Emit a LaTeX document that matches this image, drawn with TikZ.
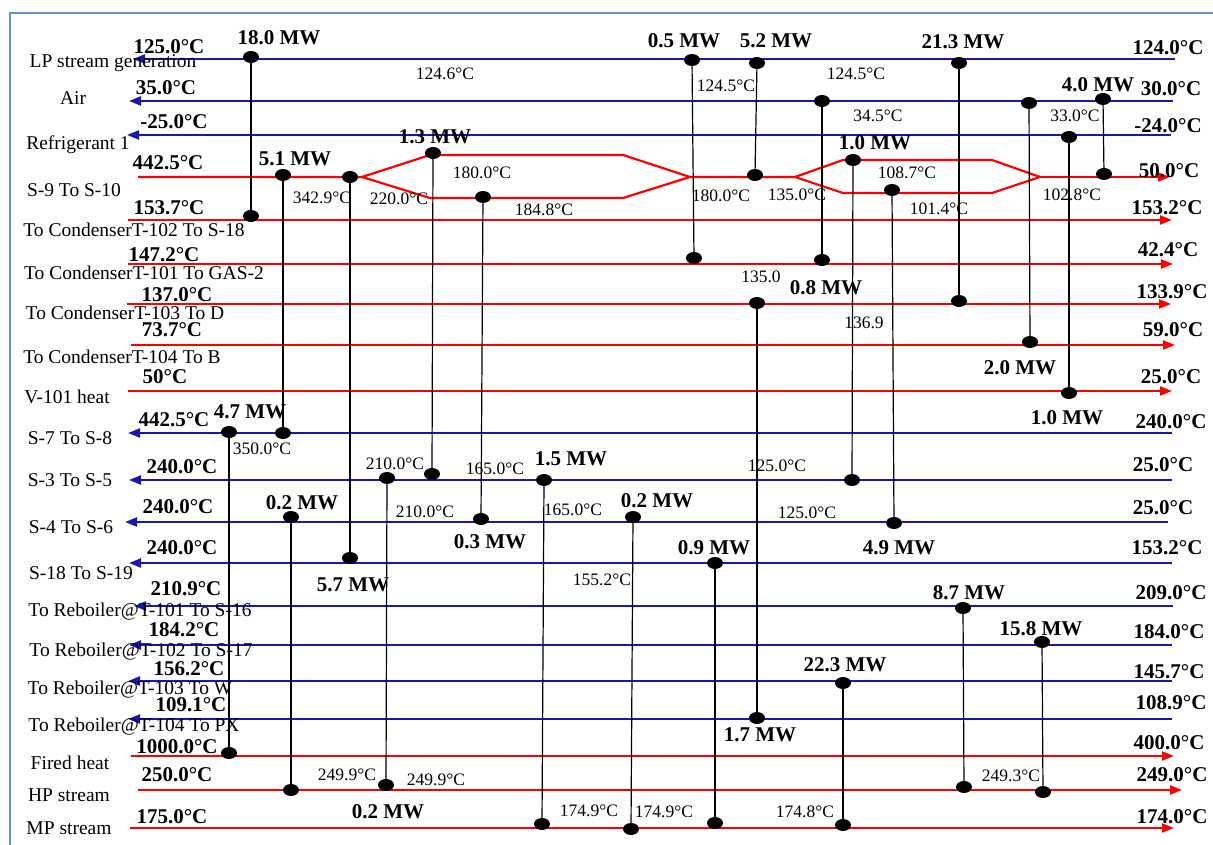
\documentclass[tikz,border=0pt]{standalone}
\usepackage{fontspec}
\setmainfont{Liberation Serif}
\usetikzlibrary{arrows.meta,shapes.geometric}
\definecolor{hotred}{RGB}{255,0,0}
\definecolor{coldblue}{RGB}{24,24,176}
\definecolor{framecol}{RGB}{100,145,205}
\tikzset{
  hot/.style={draw=hotred,line width=2.2pt},
  cold/.style={draw=coldblue,line width=2.2pt},
  tipR/.style={-{Triangle[length=12pt,width=9pt]}},
  tipL/.style={{Triangle[length=12pt,width=9pt]}-},
  hx/.style={draw=black,line width=1.2pt},
  dot/.style={ellipse,fill=black,draw=none,inner sep=0pt,minimum width=16pt,minimum height=12pt},
  sname/.style={inner sep=0pt,font=\fontsize{19.5}{20}\selectfont},
  btemp/.style={inner sep=0pt,font=\bfseries\fontsize{21}{22}\selectfont},
  mw/.style={inner sep=0pt,font=\bfseries\fontsize{21}{22}\selectfont},
  stemp/.style={inner sep=0pt,font=\fontsize{17.5}{18}\selectfont},
  framebox/.style={draw=framecol,line width=2pt}
}
\begin{document}
\begin{tikzpicture}[x=1pt,y=-1pt]
\useasboundingbox (0,0) rectangle (1213,845);
\fill[white] (0,0) rectangle (1213,845);
\draw[framebox] (10,850) -- (10,13) -- (1220,13);

% ---------- stream end points ----------
\coordinate (lpL) at (133,59);   \coordinate (lpR) at (1175,59);
\coordinate (airL) at (129,101); \coordinate (airR) at (1173,101);
\coordinate (refL) at (127,135); \coordinate (refR) at (1171,135);
\coordinate (s9L) at (138,177);  \coordinate (s9R) at (1170,177);
\coordinate (c2L) at (128,220);  \coordinate (c2R) at (1172,220);
\coordinate (c1L) at (128,264);  \coordinate (c1R) at (1173,264);
\coordinate (c3L) at (127,304);  \coordinate (c3R) at (1171,304);
\coordinate (c4L) at (131,345);  \coordinate (c4R) at (1175,345);
\coordinate (vL) at (128,391);   \coordinate (vR) at (1172,391);
\coordinate (s7L) at (128,433);  \coordinate (s7R) at (1172,433);
\coordinate (s3L) at (129,480);  \coordinate (s3R) at (1172,480);
\coordinate (s4L) at (125,522);  \coordinate (s4R) at (1168,522);
\coordinate (s18L) at (129,563); \coordinate (s18R) at (1172,563);
\coordinate (r1L) at (134,606);  \coordinate (r1R) at (1173,606);
\coordinate (r2L) at (129,645);  \coordinate (r2R) at (1172,645);
\coordinate (r3L) at (128,681);  \coordinate (r3R) at (1172,681);
\coordinate (r4L) at (128,719);  \coordinate (r4R) at (1172,719);
\coordinate (fhL) at (131,756);  \coordinate (fhR) at (1174,756);
\coordinate (hpL) at (138,790);  \coordinate (hpR) at (1182,790);
\coordinate (mpL) at (130,828);  \coordinate (mpR) at (1174,828);

% split points of S-9
\coordinate (sa) at (362,177); \coordinate (sa1) at (430,155); \coordinate (sa2) at (623,155);
\coordinate (sa3) at (430,198); \coordinate (sa4) at (623,198); \coordinate (sb) at (690,177);
\coordinate (sc) at (795,177); \coordinate (sc1) at (843,160); \coordinate (sc2) at (992,160);
\coordinate (sc3) at (843,193); \coordinate (sc4) at (992,193); \coordinate (sd) at (1040,177);

% ---------- cold streams ----------
\draw[cold,tipL] (lpL) -- (lpR);
\draw[cold,tipL] (airL) -- (airR);
\draw[cold,tipL] (refL) -- (refR);
\draw[cold,tipL] (s7L) -- (s7R);
\draw[cold,tipL] (s3L) -- (s3R);
\draw[cold,tipL] (s4L) -- (s4R);
\draw[cold,tipL] (s18L) -- (s18R);
\draw[cold,tipL] (r1L) -- (r1R);
\draw[cold,tipL] (r2L) -- (r2R);
\draw[cold,tipL] (r3L) -- (r3R);
\draw[cold,tipL] (r4L) -- (r4R);

% ---------- hot streams ----------
\draw[hot] (s9L) -- (sa) -- (sa1) -- (sa2) -- (sb) -- (sc) -- (sc1) -- (sc2) -- (sd);
\draw[hot] (sa) -- (sa3) -- (sa4) -- (sb);
\draw[hot] (sc) -- (sc3) -- (sc4) -- (sd);
\draw[hot,tipR] (sd) -- (s9R);
\draw[hot,tipR] (c2L) -- (c2R);
\draw[hot,tipR] (c1L) -- (c1R);
\draw[hot,tipR] (c3L) -- (c3R);
\draw[hot,tipR] (c4L) -- (c4R);
\draw[hot,tipR] (vL) -- (vR);
\draw[hot,tipR] (fhL) -- (fhR);
\draw[hot,tipR] (hpL) -- (hpR);
\draw[hot,tipR] (mpL) -- (mpR);

% ---------- exchangers ----------
\node[dot] (e1t) at (251,57) {};   \node[dot] (e1b) at (251,216) {};
\node[dot] (e2t) at (283,175) {};  \node[dot] (e2b) at (283,433) {};
\node[dot] (e3t) at (350,177) {};  \node[dot] (e3b) at (350,558) {};
\node[dot] (e4t) at (433,153) {};  \node[dot] (e4b) at (432,474) {};
\node[dot] (e5t) at (483,197) {};  \node[dot] (e5b) at (481,519) {};
\node[dot] (e6t) at (757,63) {};   \node[dot] (e6b) at (755,175) {};
\node[dot] (e7t) at (692,60) {};   \node[dot] (e7b) at (694,258) {};
\node[dot] (e8t) at (822,101) {};  \node[dot] (e8b) at (822,260) {};
\node[dot] (e9t) at (757,303) {};  \node[dot] (e9b) at (757,718) {};
\node[dot] (e10t) at (853,160) {}; \node[dot] (e10b) at (852,480) {};
\node[dot] (e11t) at (892,190) {}; \node[dot] (e11b) at (894,523) {};
\node[dot] (e12t) at (959,63) {};  \node[dot] (e12b) at (959,301) {};
\node[dot] (e13t) at (1029,103) {};\node[dot] (e13b) at (1030,342) {};
\node[dot] (e14t) at (1069,137) {};\node[dot] (e14b) at (1069,393) {};
\node[dot] (e15t) at (1103,99) {}; \node[dot] (e15b) at (1104,174) {};
\node[dot] (e16t) at (229,432) {}; \node[dot] (e16b) at (229,753) {};
\node[dot] (e17t) at (291,517) {}; \node[dot] (e17b) at (291,790) {};
\node[dot] (e18t) at (387,478) {}; \node[dot] (e18b) at (386,785) {};
\node[dot] (e19t) at (544,480) {}; \node[dot] (e19b) at (542,824) {};
\node[dot] (e20t) at (633,517) {}; \node[dot] (e20b) at (631,829) {};
\node[dot] (e21t) at (715,563) {}; \node[dot] (e21b) at (715,823) {};
\node[dot] (e22t) at (963,608) {}; \node[dot] (e22b) at (964,787) {};
\node[dot] (e23t) at (1042,642) {};\node[dot] (e23b) at (1043,792) {};
\node[dot] (e24t) at (843,683) {}; \node[dot] (e24b) at (843,825) {};
\foreach \e in {e1,e2,e3,e4,e5,e6,e7,e8,e9,e10,e11,e12,e13,e14,e15,e16,e17,e18,e19,e20,e21,e22,e23,e24}
  \draw[hx] (\e t.center) -- (\e b.center);

% ---------- duty labels ----------
\node[mw] (m1) at (279,38) {18.0 MW};
\node[mw] (m2) at (295,159) {5.1 MW};
\node[mw] (m3) at (353,585) {5.7 MW};
\node[mw] (m4) at (435,137) {1.3 MW};
\node[mw] (m5) at (490,542) {0.3 MW};
\node[mw] (m6) at (776,41) {5.2 MW};
\node[mw] (m7) at (684,41) {0.5 MW};
\node[mw] (m8) at (826,288) {0.8 MW};
\node[mw] (m9) at (760,735) {1.7 MW};
\node[mw] (m10) at (875,143) {1.0 MW};
\node[mw] (m11) at (899,548) {4.9 MW};
\node[mw] (m12) at (963,42) {21.3 MW};
\node[mw] (m13) at (1020,368) {2.0 MW};
\node[mw] (m14) at (1067,418) {1.0 MW};
\node[mw] (m15) at (1098,85) {4.0 MW};
\node[mw] (m16) at (250,412) {4.7 MW};
\node[mw] (m17) at (302,503) {0.2 MW};
\node[mw] (m18) at (388,812) {0.2 MW};
\node[mw] (m19) at (571,459) {1.5 MW};
\node[mw] (m20) at (657,501) {0.2 MW};
\node[mw] (m21) at (714,548) {0.9 MW};
\node[mw] (m22) at (969,593) {8.7 MW};
\node[mw] (m23) at (1041,629) {15.8 MW};
\node[mw] (m24) at (845,665) {22.3 MW};

% ---------- intermediate temperatures ----------
\node[stemp] (t1) at (445,74) {124.6°C};
\node[stemp] (t2) at (726,86) {124.5°C};
\node[stemp] (t3) at (856,74) {124.5°C};
\node[stemp] (t4) at (878,116) {34.5°C};
\node[stemp] (t5) at (1075,116) {33.0°C};
\node[stemp] (t6) at (322,198) {342.9°C};
\node[stemp] (t7) at (399,199) {220.0°C};
\node[stemp] (t8) at (482,173) {180.0°C};
\node[stemp] (t9) at (544,210) {184.8°C};
\node[stemp] (t10) at (721,196) {180.0°C};
\node[stemp] (t11) at (797,195) {135.0°C};
\node[stemp] (t12) at (907,173) {108.7°C};
\node[stemp] (t13) at (939,209) {101.4°C};
\node[stemp] (t14) at (1072,195) {102.8°C};
\node[stemp] (t15) at (761,277) {135.0};
\node[stemp] (t16) at (864,323) {136.9};
\node[stemp] (t17) at (262,449) {350.0°C};
\node[stemp] (t18) at (395,464) {210.0°C};
\node[stemp] (t19) at (495,469) {165.0°C};
\node[stemp] (t20) at (425,512) {210.0°C};
\node[stemp] (t21) at (573,510) {165.0°C};
\node[stemp] (t22) at (777,466) {125.0°C};
\node[stemp] (t23) at (807,513) {125.0°C};
\node[stemp] (t24) at (602,580) {155.2°C};
\node[stemp] (t25) at (347,775) {249.9°C};
\node[stemp] (t26) at (436,780) {249.9°C};
\node[stemp] (t27) at (589,811) {174.9°C};
\node[stemp] (t28) at (664,812) {174.9°C};
\node[stemp] (t29) at (805,812) {174.8°C};
\node[stemp] (t30) at (1011,776) {249.3°C};

% ---------- supply temperatures (left) ----------
\node[btemp] (l1) at (169,47) {125.0°C};
\node[btemp] (l2) at (166,88) {35.0°C};
\node[btemp] (l3) at (174,122) {-25.0°C};
\node[btemp] (l4) at (168,163) {442.5°C};
\node[btemp] (l5) at (169,208) {153.7°C};
\node[btemp] (l6) at (164,255) {147.2°C};
\node[btemp] (l7) at (177,295) {137.0°C};
\node[btemp] (l8) at (172,330) {73.7°C};
\node[btemp] (l9) at (165,377) {50°C};
\node[btemp] (l10) at (174,420) {442.5°C};
\node[btemp] (l11) at (182,467) {240.0°C};
\node[btemp] (l12) at (178,507) {240.0°C};
\node[btemp] (l13) at (182,548) {240.0°C};
\node[btemp] (l14) at (186,589) {210.9°C};
\node[btemp] (l15) at (184,630) {184.2°C};
\node[btemp] (l16) at (189,669) {156.2°C};
\node[btemp] (l17) at (191,705) {109.1°C};
\node[btemp] (l18) at (177,747) {1000.0°C};
\node[btemp] (l19) at (177,775) {250.0°C};
\node[btemp] (l20) at (172,817) {175.0°C};

% ---------- target temperatures (right) ----------
\node[btemp] (r1) at (1168,48) {124.0°C};
\node[btemp] (r2) at (1171,89) {30.0°C};
\node[btemp] (r3) at (1168,126) {-24.0°C};
\node[btemp] (r4) at (1169,171) {50.0°C};
\node[btemp] (r5) at (1167,208) {153.2°C};
\node[btemp] (r6) at (1168,250) {42.4°C};
\node[btemp] (r7) at (1172,292) {133.9°C};
\node[btemp] (r8) at (1173,330) {59.0°C};
\node[btemp] (r9) at (1171,377) {25.0°C};
\node[btemp] (r10) at (1171,422) {240.0°C};
\node[btemp] (r11) at (1163,465) {25.0°C};
\node[btemp] (r12) at (1163,508) {25.0°C};
\node[btemp] (r13) at (1167,548) {153.2°C};
\node[btemp] (r14) at (1171,593) {209.0°C};
\node[btemp] (r15) at (1169,632) {184.0°C};
\node[btemp] (r16) at (1169,672) {145.7°C};
\node[btemp] (r17) at (1171,703) {108.9°C};
\node[btemp] (r18) at (1169,743) {400.0°C};
\node[btemp] (r19) at (1172,775) {249.0°C};
\node[btemp] (r20) at (1172,817) {174.0°C};

% ---------- stream names ----------
\node[sname] (n1) at (113,63) {LP stream generation};
\node[sname] (n2) at (73,98) {Air};
\node[sname] (n3) at (78,145) {Refrigerant 1};
\node[sname] (n4) at (74,190) {S-9 To S-10};
\node[sname] (n5) at (134,230) {To CondenserT-102 To S-18};
\node[sname] (n6) at (144,273) {To CondenserT-101 To GAS-2};
\node[sname] (n7) at (125,313) {To CondenserT-103 To D};
\node[sname] (n8) at (122,357) {To CondenserT-104 To B};
\node[sname] (n9) at (67,397) {V-101 heat};
\node[sname] (n10) at (70,438) {S-7 To S-8};
\node[sname] (n11) at (70,480) {S-3 To S-5};
\node[sname] (n12) at (71,527) {S-4 To S-6};
\node[sname] (n13) at (81,573) {S-18 To S-19};
\node[sname] (n14) at (140,612) {To Reboiler@T-101 To S-16};
\node[sname] (n15) at (141,652) {To Reboiler@T-102 To S-17};
\node[sname] (n16) at (130,690) {To Reboiler@T-103 To W};
\node[sname] (n17) at (134,727) {To Reboiler@T-104 To PX};
\node[sname] (n18) at (70,763) {Fired heat};
\node[sname] (n19) at (69,795) {HP stream};
\node[sname] (n20) at (69,828) {MP stream};
\end{tikzpicture}
\end{document}
